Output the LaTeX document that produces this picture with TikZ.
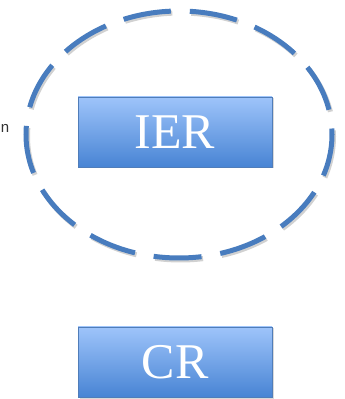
\documentclass[tikz,border=0pt]{standalone}
\usepackage{fontspec}
\setmainfont{Liberation Serif}
\newfontfamily\labelfont{Liberation Sans}
\usetikzlibrary{shadows}
\definecolor{ringblue}{RGB}{72,124,190}
\definecolor{boxtop}{RGB}{158,196,250}
\definecolor{boxbot}{RGB}{72,132,212}
\definecolor{boxline}{RGB}{80,125,185}
\tikzset{
  relbox/.style={draw=boxline,line width=0.8pt,top color=boxtop,bottom color=boxbot,
    minimum width=194pt,minimum height=70pt,inner sep=0pt,text=white,
    font=\fontsize{50}{50}\selectfont,drop shadow={shadow xshift=1.5pt,shadow yshift=-1.5pt,opacity=0.3}},
  ring/.style={draw=ringblue,line width=5pt,dash pattern=on 48pt off 19pt,dash phase=42pt}
}
\begin{document}
\begin{tikzpicture}[x=1pt,y=1pt]
            \useasboundingbox (0,0) rectangle (345,399);
            % dashed set round IER, with its soft shadow
            \draw[ring,draw=black,opacity=0.18] (180.5,262.5) ellipse (153 and 123.5);
            \draw[ring] (179,264.5) ellipse (153 and 123.5);
            \node[relbox] (ier) at (175,267) {IER};
            \node[relbox] (cr) at (175,37) {CR};
            % label at the left edge
            \node[anchor=base east,inner sep=0pt,text=black!80,font=\labelfont\fontsize{15}{15}\selectfont] (cut) at (9.5,266) {n};
            \end{tikzpicture}
\end{document}
